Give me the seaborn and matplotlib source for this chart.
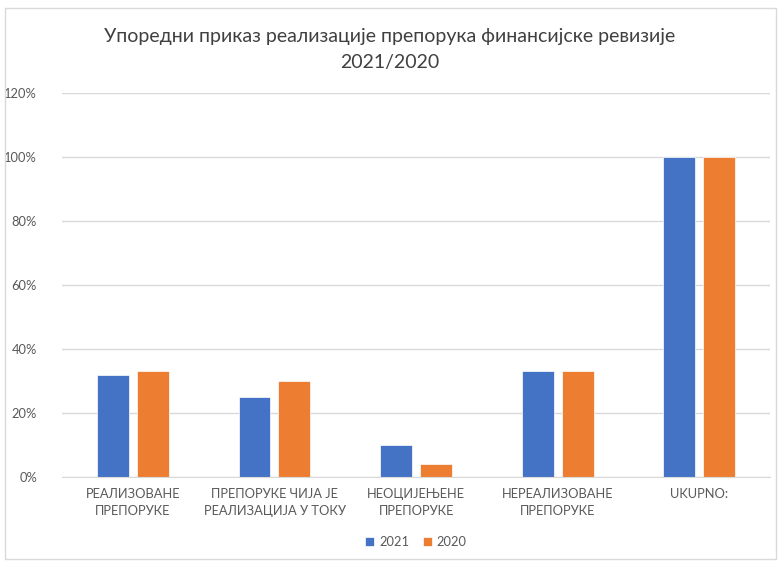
import numpy as np
import pandas as pd
import matplotlib
matplotlib.use("Agg")
import matplotlib.pyplot as plt
import seaborn as sns
from matplotlib.patches import Rectangle
from matplotlib.ticker import PercentFormatter

categories = [
    "РЕАЛИЗОВАНЕ\nПРЕПОРУКЕ",
    "ПРЕПОРУКЕ ЧИЈА ЈЕ\nРЕАЛИЗАЦИЈА У ТОКУ",
    "НЕОЦИЈЕЊЕНЕ\nПРЕПОРУКЕ",
    "НЕРЕАЛИЗОВАНЕ\nПРЕПОРУКЕ",
    "UKUPNO:",
]
years = ["2021", "2020"]
vals_2021 = [32, 25, 10, 33, 100]
vals_2020 = [33, 30, 4, 33, 100]
colors = ["#4472C4", "#ED7D31"]

df = pd.DataFrame({
    "category": categories * 2,
    "year": [years[0]] * 5 + [years[1]] * 5,
    "value": vals_2021 + vals_2020,
})

sns.set_style("white")
plt.rcParams["font.family"] = ["Lato", "DejaVu Sans"]
text_col = "#595959"

fig = plt.figure(figsize=(7.79, 5.61), dpi=100)
ax = fig.add_axes([0.0796, 0.150, 0.909, 0.684])

sns.barplot(data=df, x="category", y="value", hue="year", order=categories,
            hue_order=years, palette=colors, width=0.563, gap=0.2,
            saturation=1, linewidth=0.5, edgecolor="white", ax=ax, legend=True)

ax.set_ylim(0, 120)
ax.set_xlim(-0.5, 4.5)
ax.set_yticks(np.arange(0, 121, 20))
ax.yaxis.set_major_formatter(PercentFormatter(decimals=0))
ax.grid(axis="y", color="#D9D9D9", linewidth=1)
ax.set_axisbelow(True)
for s in ["top", "right", "left"]:
    ax.spines[s].set_visible(False)
ax.spines["bottom"].set_color("#D9D9D9")
ax.tick_params(axis="both", length=0, labelsize=9.3, colors=text_col, pad=8)
ax.tick_params(axis="y", pad=18)
for lbl in ax.get_xticklabels():
    lbl.set_linespacing(1.55)
ax.set_xlabel("")
ax.set_ylabel("")

ax.legend(loc="upper center", bbox_to_anchor=(0.5, -0.125), ncol=2, frameon=False,
          fontsize=9.3, labelcolor=text_col, handlelength=0.7, handleheight=0.7,
          columnspacing=1.0, handletextpad=0.4)

fig.text(0.5, 0.912, "Упоредни приказ реализације препорука финансијске ревизије\n2021/2020",
         ha="center", va="center", fontsize=14, color="#404040", linespacing=1.65)

fig.patches.append(Rectangle((0.006, 0.003), 0.99, 0.983, transform=fig.transFigure,
                             fill=False, edgecolor="#D9D9D9", linewidth=1))

fig.savefig("out.png", dpi=100)
